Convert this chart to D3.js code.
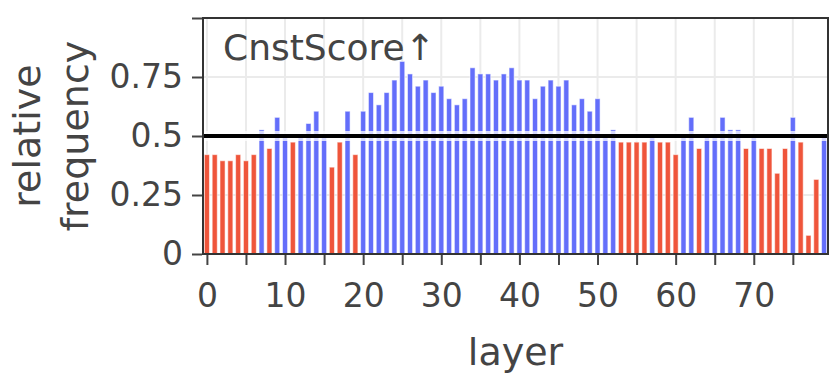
<!DOCTYPE html>
<html>
<head>
<meta charset="utf-8">
<script src="https://cdn.jsdelivr.net/npm/d3@7"></script>
<style>
  html, body { margin: 0; padding: 0; background: #fff; }
  svg text { font-family: "DejaVu Sans", sans-serif; fill: #444; }
</style>
</head>
<body>
<svg id="chart" width="830" height="374"></svg>
<script>
// Layers (categories) and the relative frequency
const Layers = d3.range(80);
const Values = [
    0.421, 0.421, 0.395, 0.395, 0.421, 0.395, 0.421, 0.526, 0.447, 0.579,
    0.500, 0.474, 0.500, 0.553, 0.605, 0.500, 0.368, 0.474, 0.605, 0.421,
    0.605, 0.684, 0.632, 0.684, 0.737, 0.816, 0.763, 0.711, 0.737, 0.684,
    0.711, 0.658, 0.632, 0.658, 0.789, 0.763, 0.763, 0.737, 0.763, 0.789,
    0.737, 0.737, 0.658, 0.711, 0.737, 0.711, 0.737, 0.632, 0.658, 0.605,
    0.658, 0.500, 0.526, 0.474, 0.474, 0.474, 0.474, 0.500, 0.474, 0.474,
    0.421, 0.500, 0.579, 0.447, 0.500, 0.500, 0.579, 0.526, 0.526, 0.447,
    0.500, 0.447, 0.447, 0.342, 0.447, 0.579, 0.474, 0.079, 0.316, 0.500
];
const Threshold = 0.5;
const XTicks = [0, 5, 10, 15, 20, 25, 30, 35, 40, 45, 50, 55, 60, 65, 70, 75];
const XLabels = [0, 10, 20, 30, 40, 50, 60, 70];
const YTicks = [0, 0.25, 0.5, 0.75, 1];
const YLabels = ["0", "0.25", "0.5", "0.75", ""];
const GridY = [0.25, 0.5, 0.75];
const Title = "CnstScore\u2191";

// Colours
const Blue = "#636efa";
const Red = "#ef553b";

// Layout
var Margin = { Top: 18, Right: 2, Bottom: 120, Left: 203 };
var Width = 830 - Margin.Left - Margin.Right;
var Height = 374 - Margin.Top - Margin.Bottom;
var SVG = d3.select("#chart")
    .append("g")
    .attr("transform", `translate(${Margin.Left},${Margin.Top})`);

// Scales
var X = d3.scaleBand().domain(Layers).range([0, Width]).paddingInner(0.35).paddingOuter(0.175);
var XL = d3.scaleLinear().domain([-0.5, 79.5]).range([0, Width]);
var Y = d3.scaleLinear().domain([0, 1]).range([Height, 0]);

// Grid
SVG.append("g").selectAll("line").data(XTicks).enter().append("line")
    .attr("x1", d => XL(d)).attr("x2", d => XL(d))
    .attr("y1", 0).attr("y2", Height)
    .attr("stroke", "#ebebeb").attr("stroke-width", 2);
SVG.append("g").selectAll("line").data(GridY).enter().append("line")
    .attr("x1", 0).attr("x2", Width)
    .attr("y1", d => Y(d)).attr("y2", d => Y(d))
    .attr("stroke", "#ebebeb").attr("stroke-width", 2);

// Title
SVG.append("text")
    .attr("x", 20).attr("y", 42)
    .attr("font-size", 36)
    .text(Title);

// Bars: lower segment up to the threshold, upper segment above it
var Data = Layers.map((L, I) => ({ Layer: L, Value: Values[I] }));
var Bars = SVG.append("g");
Bars.selectAll("rect.low").data(Data).enter().append("rect")
    .attr("class", "low")
    .attr("x", d => X(d.Layer))
    .attr("width", X.bandwidth())
    .attr("y", d => Y(Math.min(d.Value, Threshold)))
    .attr("height", d => Y(0) - Y(Math.min(d.Value, Threshold)))
    .attr("fill", d => d.Value >= Threshold ? Blue : Red)
    .attr("stroke", "rgba(255,255,255,0.55)").attr("stroke-width", 1);
Bars.selectAll("rect.high").data(Data.filter(d => d.Value > Threshold)).enter().append("rect")
    .attr("class", "high")
    .attr("x", d => X(d.Layer))
    .attr("width", X.bandwidth())
    .attr("y", d => Y(d.Value))
    .attr("height", d => Y(Threshold) - Y(d.Value))
    .attr("fill", Blue)
    .attr("stroke", "rgba(255,255,255,0.55)").attr("stroke-width", 1);

// Threshold line
SVG.append("line")
    .attr("x1", 0).attr("x2", Width)
    .attr("y1", Y(Threshold)).attr("y2", Y(Threshold))
    .attr("stroke", "rgba(255,255,255,0.75)").attr("stroke-width", 10);
SVG.append("line")
    .attr("x1", 0).attr("x2", Width)
    .attr("y1", Y(Threshold)).attr("y2", Y(Threshold))
    .attr("stroke", "#000").attr("stroke-width", 4);

// Frame
SVG.append("rect")
    .attr("x", 0).attr("y", 0).attr("width", Width).attr("height", Height)
    .attr("fill", "none").attr("stroke", "#333").attr("stroke-width", 2);

// X axis
var XAxis = SVG.append("g")
    .attr("transform", `translate(0,${Height + 1})`)
    .call(d3.axisBottom(XL).tickValues(XTicks).tickSize(10).tickSizeOuter(0)
        .tickFormat(d => XLabels.includes(d) ? d : ""));
XAxis.select(".domain").remove();
XAxis.selectAll(".tick line").attr("stroke", "#444").attr("stroke-width", 2);
XAxis.selectAll(".tick text").attr("font-size", 33).attr("y", 52).attr("dy", null).attr("fill", "#444");

// Y axis
var YAxis = SVG.append("g")
    .attr("transform", "translate(-1,0)")
    .call(d3.axisLeft(Y).tickValues(YTicks).tickSize(10).tickSizeOuter(0)
        .tickFormat((d, i) => YLabels[i]));
YAxis.select(".domain").remove();
YAxis.selectAll(".tick line").attr("stroke", "#444").attr("stroke-width", 2);
YAxis.selectAll(".tick text").attr("font-size", 33).attr("x", -19).attr("fill", "#444");

// Axis titles
SVG.append("text")
    .attr("x", Width / 2).attr("y", Height + 111)
    .attr("text-anchor", "middle")
    .attr("font-size", 38)
    .text("layer");
var YTitle = SVG.append("text")
    .attr("transform", `translate(${-Margin.Left + 40},${Height / 2}) rotate(-90)`)
    .attr("text-anchor", "middle")
    .attr("font-size", 38);
YTitle.append("tspan").attr("x", 0).attr("y", 0).text("relative");
YTitle.append("tspan").attr("x", 0).attr("y", 48).text("frequency");
</script>
</body>
</html>
